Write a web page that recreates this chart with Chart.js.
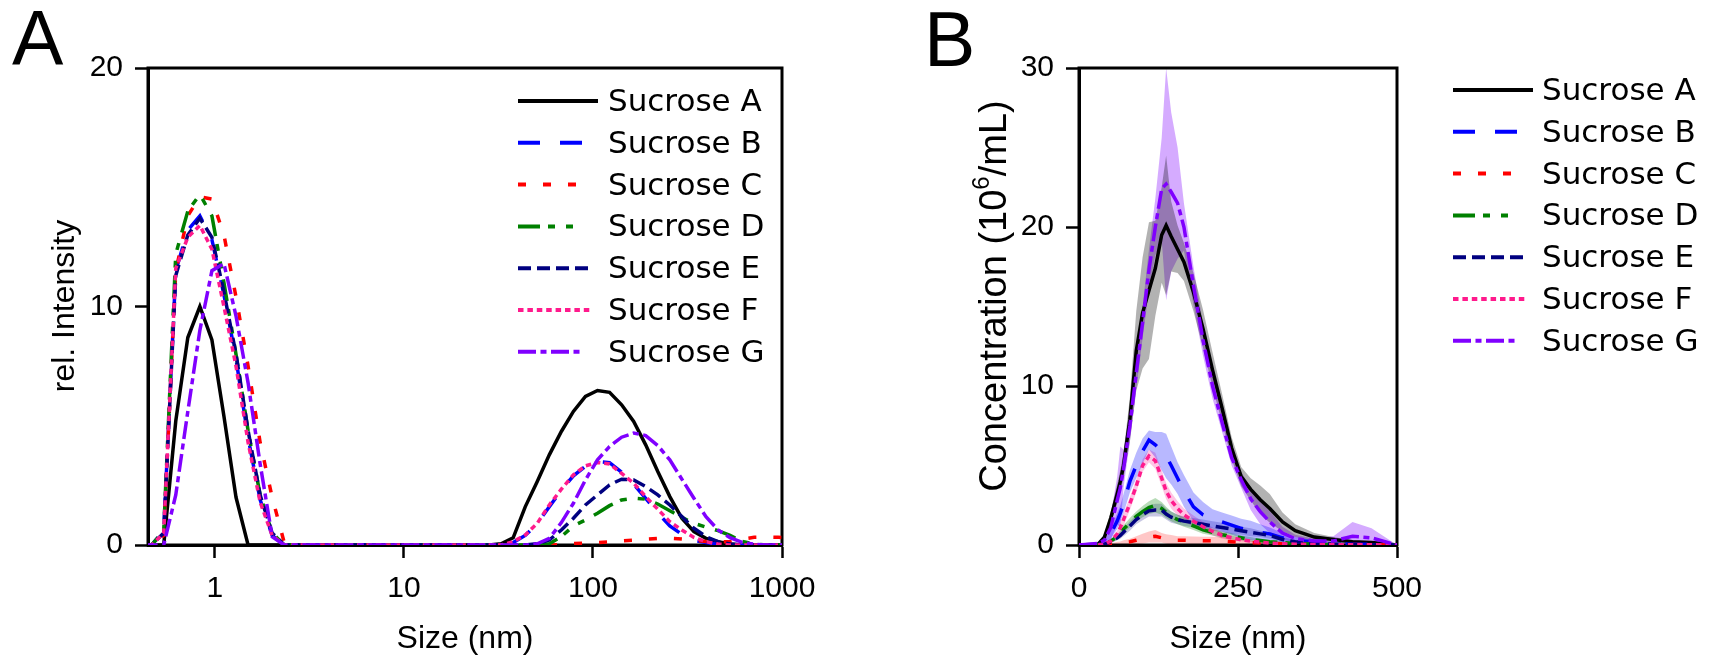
<!DOCTYPE html>
<html>
<head>
<meta charset="utf-8">
<title>Sucrose - DLS / NTA</title>
<script src="https://cdn.jsdelivr.net/npm/chart.js@4.4.1/dist/chart.umd.min.js"></script>
<style>
    html, body { margin: 0; padding: 0; background: #fff; }
    #wrap { position: relative; width: 1712px; height: 661px; }
    canvas { position: absolute; top: 0; }
    #chartA { left: 0; }
    #chartB { left: 860px; }
</style>
</head>
<body>
<div id="wrap">
    <canvas id="chartA" width="860" height="661"></canvas>
    <canvas id="chartB" width="852" height="661"></canvas>
</div>
<script>
// ---- Panel A: DLS intensity distribution (log size bins, nm) ----
const sizesA = [0.4, 0.4632, 0.5365, 0.6213, 0.7195, 0.8332, 0.9649, 1.117, 1.294, 1.499, 1.736, 2.010, 2.328,
    2.696, 3.122, 3.615, 4.187, 4.849, 5.615, 6.503, 7.531, 8.721, 10.10, 11.70, 13.54, 15.69, 18.17, 21.04, 24.36, 28.21,
    32.67, 37.84, 43.82, 50.75, 58.77, 68.06, 78.82, 91.28, 105.7, 122.4, 141.8, 164.2, 190.1, 220.2, 255.0,
    295.3, 342.0, 396.1, 458.7, 531.2, 615.1, 712.4, 825.0, 955.4, 1106];

const dlsA = [0, 0, 0, 5.2, 8.7, 10.0, 8.6, 5.4, 2.0, 0, 0, 0, 0,
    0, 0, 0, 0, 0, 0, 0, 0, 0, 0, 0, 0, 0, 0, 0, 0, 0,
    0.05, 0.3, 1.6, 2.66, 3.78, 4.76, 5.6, 6.23, 6.48, 6.4, 5.88, 5.18, 4.2, 3.08, 2.03,
    1.12, 0.56, 0.28, 0.14, 0.04, 0, 0, 0, 0, 0];
const dlsB = [0, 0, 0.6, 11.5, 13.2, 13.8, 12.8, 10.5, 7.8, 4.5, 1.9, 0.4, 0,
    0, 0, 0, 0, 0, 0, 0, 0, 0, 0, 0, 0, 0, 0, 0, 0, 0,
    0, 0.1, 0.4, 0.9, 1.6, 2.3, 2.9, 3.3, 3.5, 3.45, 3.05, 2.55, 1.95, 1.35, 0.8,
    0.45, 0.2, 0.1, 0.03, 0, 0, 0, 0, 0, 0];
const dlsC = [0, 0, 0.4, 11.5, 13.8, 14.6, 14.5, 13.0, 10.4, 7.5, 4.3, 2.0, 0.1,
    0, 0, 0, 0, 0, 0, 0, 0, 0, 0, 0, 0, 0, 0, 0, 0, 0,
    0, 0, 0, 0, 0, 0.02, 0.06, 0.08, 0.1, 0.13, 0.17, 0.2, 0.24, 0.27, 0.28,
    0.25, 0.2, 0.15, 0.12, 0.15, 0.25, 0.32, 0.33, 0.32, 0.3];
const dlsD = [0, 0, 0.6, 12.2, 14.0, 14.7, 13.8, 11.0, 8.0, 4.8, 2.1, 0.5, 0,
    0, 0, 0, 0, 0, 0, 0, 0, 0, 0, 0, 0, 0, 0, 0, 0, 0,
    0, 0, 0, 0, 0.05, 0.35, 0.8, 1.05, 1.33, 1.65, 1.89, 1.96, 1.92, 1.72, 1.44,
    1.16, 0.91, 0.75, 0.6, 0.4, 0.15, 0.05, 0, 0, 0];
const dlsE = [0, 0, 0.5, 11.3, 13.0, 13.7, 12.9, 10.6, 8.0, 4.8, 2.1, 0.5, 0,
    0, 0, 0, 0, 0, 0, 0, 0, 0, 0, 0, 0, 0, 0, 0, 0, 0,
    0, 0, 0, 0.05, 0.21, 0.63, 1.12, 1.68, 2.1, 2.52, 2.76, 2.73, 2.45, 2.1, 1.68,
    1.19, 0.7, 0.35, 0.14, 0.04, 0, 0, 0, 0, 0];
const dlsF = [0, 0, 0.5, 11.6, 12.9, 13.4, 12.4, 10.0, 7.5, 4.3, 1.8, 0.4, 0,
    0, 0, 0, 0, 0, 0, 0, 0, 0, 0, 0, 0, 0, 0, 0, 0, 0,
    0, 0.14, 0.42, 0.91, 1.68, 2.34, 2.94, 3.32, 3.46, 3.4, 3.0, 2.59, 2.03, 1.5, 0.98,
    0.63, 0.32, 0.14, 0.04, 0, 0, 0, 0, 0, 0];
const dlsG = [0, 0, 0, 2.1, 5.6, 9.0, 11.5, 11.8, 9.6, 6.8, 3.4, 0.35, 0,
    0, 0, 0, 0, 0, 0, 0, 0, 0, 0, 0, 0, 0, 0, 0, 0, 0,
    0, 0, 0, 0.05, 0.28, 0.94, 1.75, 2.73, 3.57, 4.13, 4.52, 4.69, 4.59, 4.17, 3.57,
    2.76, 1.96, 1.19, 0.63, 0.31, 0.11, 0.03, 0, 0, 0];

const ticksA_x = [1, 10, 100, 1000];
const ticksA_y = [0, 10, 20];

// ---- Panel B: NTA concentration (mean and spread, 10^6/mL) ----
const sizesB = [0, 30, 40, 50, 60, 65, 70, 80, 90, 100, 110, 120, 130, 137, 145, 155, 165, 180, 195, 210,
    225, 240, 255, 270, 285, 300, 320, 340, 370, 400, 430, 460, 500];

const ntaA = [0, 0.05, 0.5, 1.7, 3.2, 4.0, 5.0, 7.9, 12.2, 14.6, 16.0, 17.4, 19.5, 20.1, 19.4, 18.6, 17.8, 15.9, 13.6, 11.0,
    8.6, 6.1, 4.3, 3.5, 2.85, 2.3, 1.45, 0.9, 0.5, 0.35, 0.2, 0.15, 0];
const errA = [0, 0, 0.2, 0.4, 0.6, 0.7, 0.8, 1.4, 2.5, 3.5, 4.3, 3.0, 3.0, 4.4, 2.2, 1.5, 1.2, 1.2, 1.2, 1.1,
    0.9, 0.7, 0.6, 0.7, 0.9, 0.9, 0.6, 0.4, 0.25, 0.15, 0.1, 0.05, 0];
const ntaB = [0, 0, 0.2, 0.7, 1.5, 2.0, 2.6, 4.0, 5.0, 5.9, 6.6, 6.3, 5.9, 5.6, 5.0, 4.2, 3.4, 2.4, 1.9, 1.65,
    1.45, 1.25, 1.05, 0.92, 0.8, 0.7, 0.45, 0.3, 0.2, 0.1, 0.05, 0.05, 0];
const errB = [0, 0, 0.1, 0.3, 0.5, 0.5, 0.6, 0.7, 0.8, 0.8, 0.6, 0.8, 1.2, 1.4, 1.2, 1.0, 1.0, 0.9, 0.8, 0.6,
    0.6, 0.6, 0.6, 0.6, 0.5, 0.4, 0.3, 0.2, 0.1, 0.1, 0.05, 0.05, 0];
const ntaC = [0, 0, 0, 0.05, 0.1, 0.12, 0.15, 0.2, 0.3, 0.4, 0.5, 0.55, 0.45, 0.38, 0.33, 0.3, 0.3, 0.28, 0.27, 0.27,
    0.25, 0.21, 0.17, 0.14, 0.12, 0.1, 0.08, 0.06, 0.05, 0.04, 0.03, 0.02, 0];
const errC = [0, 0, 0, 0.05, 0.1, 0.1, 0.15, 0.2, 0.25, 0.3, 0.35, 0.4, 0.3, 0.3, 0.3, 0.25, 0.25, 0.25, 0.25, 0.25,
    0.25, 0.2, 0.15, 0.1, 0.1, 0.1, 0.08, 0.06, 0.05, 0.04, 0.03, 0.02, 0];
const ntaD = [0, 0, 0.1, 0.25, 0.5, 0.7, 1.0, 1.4, 1.8, 2.1, 2.35, 2.5, 2.3, 2.05, 1.8, 1.6, 1.45, 1.2, 0.95, 0.8,
    0.65, 0.55, 0.45, 0.35, 0.28, 0.2, 0.15, 0.1, 0.05, 0.03, 0.02, 0.01, 0];
const errD = [0, 0, 0.05, 0.1, 0.15, 0.2, 0.25, 0.3, 0.3, 0.35, 0.4, 0.45, 0.4, 0.35, 0.3, 0.3, 0.3, 0.25, 0.25, 0.2,
    0.2, 0.2, 0.15, 0.15, 0.1, 0.1, 0.08, 0.05, 0.03, 0.02, 0.01, 0.01, 0];
const ntaE = [0, 0, 0.05, 0.2, 0.45, 0.6, 0.8, 1.2, 1.6, 1.9, 2.15, 2.2, 2.2, 1.95, 1.75, 1.6, 1.5, 1.4, 1.3, 1.2,
    1.1, 1.0, 0.9, 0.8, 0.7, 0.6, 0.35, 0.2, 0.1, 0.05, 0.03, 0.02, 0];
const errE = [0, 0, 0.05, 0.1, 0.15, 0.2, 0.25, 0.3, 0.3, 0.35, 0.35, 0.4, 0.4, 0.35, 0.35, 0.3, 0.3, 0.3, 0.3, 0.3,
    0.3, 0.3, 0.25, 0.25, 0.2, 0.2, 0.15, 0.1, 0.05, 0.03, 0.02, 0.01, 0];
const ntaF = [0, 0, 0.05, 0.25, 0.7, 1.1, 1.6, 2.6, 3.7, 5.0, 5.6, 5.3, 4.2, 3.4, 2.8, 2.3, 1.9, 1.5, 1.15, 0.85,
    0.6, 0.45, 0.33, 0.25, 0.18, 0.12, 0.08, 0.05, 0.03, 0.02, 0.01, 0.01, 0];
const errF = [0, 0, 0.05, 0.1, 0.2, 0.3, 0.4, 0.4, 0.4, 0.4, 0.4, 0.5, 0.5, 0.5, 0.5, 0.45, 0.4, 0.35, 0.3, 0.25,
    0.2, 0.15, 0.1, 0.1, 0.08, 0.05, 0.05, 0.03, 0.02, 0.01, 0.01, 0.01, 0];
const ntaG = [0, 0.1, 0.3, 1.1, 2.8, 3.6, 4.8, 7.5, 10.8, 14.0, 17.3, 20.0, 22.4, 22.7, 22.2, 21.5, 20.0, 16.3, 12.9, 10.0,
    7.7, 5.5, 4.1, 2.9, 2.1, 1.45, 0.75, 0.4, 0.25, 0.25, 0.55, 0.45, 0];
const errG = [0, 0.1, 0.3, 0.8, 1.5, 2.6, 1.2, 1.0, 1.0, 1.0, 1.3, 1.8, 3.2, 7.3, 5.0, 3.5, 1.5, 1.2, 1.0, 0.8,
    0.6, 0.5, 0.5, 0.7, 0.8, 0.7, 0.4, 0.25, 0.15, 0.3, 0.9, 0.6, 0];

const ticksB_x = [0, 250, 500];
const ticksB_y = [0, 10, 20, 30];

// ---- Styles ----
const seriesNames = ['Sucrose A', 'Sucrose B', 'Sucrose C', 'Sucrose D', 'Sucrose E', 'Sucrose F', 'Sucrose G'];
const seriesColors = ['#000000', '#0000ff', '#ff0000', '#008000', '#000080', '#ff1a8c', '#8000ff'];
const seriesDash = [[], [22, 20], [8, 17], [22, 8, 7, 11, 7, 11], [13, 6], [5.5, 3.9], [18, 4.5, 6, 4.5]];
const bandColors = ['rgba(0,0,0,0.30)', 'rgba(0,0,255,0.28)', 'rgba(255,0,0,0.22)', 'rgba(0,128,0,0.28)',
    'rgba(0,0,128,0.22)', 'rgba(255,20,147,0.25)', 'rgba(128,0,255,0.33)'];

const AXIS_FONT = '"Liberation Sans", Arial, sans-serif';
const LEGEND_FONT = '"DejaVu Sans", Verdana, sans-serif';

Chart.defaults.font.family = AXIS_FONT;
Chart.defaults.color = '#000';

// box around the plot + big panel letter
const framePlugin = {
    id: 'frame',
    beforeDatasetsDraw(chart, args, opts) {
        const { ctx, chartArea: a } = chart;
        ctx.save();
        ctx.lineWidth = 3;
        ctx.strokeStyle = '#000';
        ctx.strokeRect(a.left, a.top, a.right - a.left, a.bottom - a.top);
        ctx.fillStyle = '#000';
        ctx.font = '77px ' + AXIS_FONT;
        ctx.textAlign = 'left';
        ctx.textBaseline = 'alphabetic';
        ctx.fillText(opts.letter, opts.letterX, opts.letterY);
        ctx.restore();
    }
};

// legend sample is cut after the last whole dash, like the original
function sampleLength(dash, max) {
    if (!dash.length) return max;
    let pos = 0, end = 0, i = 0;
    while (true) {
        const d = dash[i % dash.length];
        if (i % 2 === 0) {
            if (pos + d > max) break;
            end = pos + d;
        }
        pos += d;
        i++;
    }
    return end;
}

const legendPlugin = {
    id: 'sideLegend',
    afterDraw(chart, args, opts) {
        const ctx = chart.ctx;
        ctx.save();
        ctx.font = opts.fontSize + 'px ' + LEGEND_FONT;
        ctx.textAlign = 'left';
        ctx.textBaseline = 'middle';
        chart.data.datasets.filter(d => !d.isBand).forEach((ds, i) => {
            const y = opts.y + i * opts.dy;
            const dash = ds.borderDash || [];
            ctx.strokeStyle = ds.borderColor;
            ctx.lineWidth = 4;
            ctx.setLineDash(dash);
            ctx.beginPath();
            ctx.moveTo(opts.x, y);
            ctx.lineTo(opts.x + sampleLength(dash, opts.lineLen), y);
            ctx.stroke();
            ctx.setLineDash([]);
            ctx.fillStyle = '#000';
            ctx.fillText(ds.label, opts.textX, y + 2);
        });
        ctx.restore();
    }
};

// rotated y title, with optional superscript part
const yTitlePlugin = {
    id: 'yTitle',
    afterDraw(chart, args, opts) {
        const ctx = chart.ctx;
        const big = opts.size + 'px ' + AXIS_FONT;
        const small = Math.round(opts.size * 0.62) + 'px ' + AXIS_FONT;
        ctx.save();
        ctx.translate(opts.x, opts.y);
        ctx.rotate(-Math.PI / 2);
        ctx.fillStyle = '#000';
        ctx.textAlign = 'left';
        ctx.textBaseline = 'middle';
        let total = 0;
        const widths = opts.parts.map(p => {
            ctx.font = p.sup ? small : big;
            const w = ctx.measureText(p.text).width;
            total += w;
            return w;
        });
        let x = -total / 2;
        opts.parts.forEach((p, i) => {
            ctx.font = p.sup ? small : big;
            ctx.fillText(p.text, x, p.sup ? -opts.size * 0.36 : 0);
            x += widths[i];
        });
        ctx.restore();
    }
};

function axisStyle(extra) {
    return Object.assign({
        grid: { drawOnChartArea: false, drawTicks: true, tickLength: 13, tickWidth: 2.5, tickColor: '#000' },
        border: { display: true, width: 3, color: '#000' },
    }, extra);
}

// ---- Panel A chart ----
const dlsSeries = [dlsA, dlsB, dlsC, dlsD, dlsE, dlsF, dlsG];
const datasetsA = dlsSeries.map((vals, i) => ({
    label: seriesNames[i],
    data: sizesA.map((s, j) => ({ x: s, y: vals[j] })),
    borderColor: seriesColors[i],
    borderDash: seriesDash[i],
    borderWidth: 3.5,
    fill: false,
    order: 10 - i
}));

new Chart(document.getElementById('chartA'), {
    type: 'line',
    data: { datasets: datasetsA },
    options: {
        responsive: false,
        animation: false,
        devicePixelRatio: 1,
        layout: { padding: { top: 68, right: 78, left: 0, bottom: 0 } },
        elements: { point: { radius: 0 }, line: { tension: 0 } },
        plugins: {
            legend: { display: false },
            tooltip: { enabled: false },
            frame: { letter: 'A', letterX: 12, letterY: 65 },
            sideLegend: { x: 518, textX: 608, y: 101, dy: 41.8, lineLen: 80, fontSize: 31 },
            yTitle: { x: 65, y: 306, size: 32, parts: [{ text: 'rel. Intensity' }] }
        },
        scales: {
            x: axisStyle({
                type: 'logarithmic',
                min: 0.443,
                max: 1000,
                afterFit: s => { s.height = 116; },
                afterBuildTicks: s => { s.ticks = ticksA_x.map(v => ({ value: v })); },
                ticks: { callback: v => String(v), font: { size: 30 }, padding: 13, maxRotation: 0, autoSkip: false },
                title: { display: true, text: 'Size (nm)', font: { size: 32 }, padding: { top: 0, bottom: 3 } }
            }),
            y: axisStyle({
                min: 0,
                max: 20,
                afterFit: s => { s.width = 148; },
                afterBuildTicks: s => { s.ticks = ticksA_y.map(v => ({ value: v })); },
                ticks: { font: { size: 30 }, padding: 12 }
            })
        }
    },
    plugins: [framePlugin, legendPlugin, yTitlePlugin]
});

// ---- Panel B chart ----
const ntaSeries = [ntaA, ntaB, ntaC, ntaD, ntaE, ntaF, ntaG];
const errSeries = [errA, errB, errC, errD, errE, errF, errG];
const datasetsB = [];

// shaded spread: upper edge filled down to lower edge
ntaSeries.forEach((vals, i) => {
    const err = errSeries[i];
    datasetsB.push({
        isBand: true,
        data: sizesB.map((s, j) => ({ x: s, y: vals[j] + err[j] })),
        borderWidth: 0,
        borderColor: 'rgba(0,0,0,0)',
        backgroundColor: bandColors[i],
        fill: '+1',
        order: 30
    });
    datasetsB.push({
        isBand: true,
        data: sizesB.map((s, j) => ({ x: s, y: Math.max(0, vals[j] - err[j]) })),
        borderWidth: 0,
        borderColor: 'rgba(0,0,0,0)',
        fill: false,
        order: 30
    });
});
ntaSeries.forEach((vals, i) => {
    datasetsB.push({
        label: seriesNames[i],
        data: sizesB.map((s, j) => ({ x: s, y: vals[j] })),
        borderColor: seriesColors[i],
        borderDash: seriesDash[i],
        borderWidth: 3.5,
        fill: false,
        order: 10 - i
    });
});

new Chart(document.getElementById('chartB'), {
    type: 'line',
    data: { datasets: datasetsB },
    options: {
        responsive: false,
        animation: false,
        devicePixelRatio: 1,
        layout: { padding: { top: 68, right: 315, left: 0, bottom: 0 } },
        elements: { point: { radius: 0 }, line: { tension: 0 } },
        plugins: {
            legend: { display: false },
            tooltip: { enabled: false },
            filler: { drawTime: 'beforeDatasetsDraw' },
            frame: { letter: 'B', letterX: 64, letterY: 66 },
            sideLegend: { x: 593, textX: 682, y: 90, dy: 41.8, lineLen: 80, fontSize: 31 },
            yTitle: {
                x: 136, y: 296, size: 38,
                parts: [{ text: 'Concentration (10' }, { text: '6', sup: true }, { text: '/mL)' }]
            }
        },
        scales: {
            x: axisStyle({
                type: 'linear',
                min: 0,
                max: 500,
                afterFit: s => { s.height = 116; },
                afterBuildTicks: s => { s.ticks = ticksB_x.map(v => ({ value: v })); },
                ticks: { font: { size: 30 }, padding: 13, maxRotation: 0, autoSkip: false },
                title: { display: true, text: 'Size (nm)', font: { size: 32 }, padding: { top: 0, bottom: 3 } }
            }),
            y: axisStyle({
                min: 0,
                max: 30,
                afterFit: s => { s.width = 219; },
                afterBuildTicks: s => { s.ticks = ticksB_y.map(v => ({ value: v })); },
                ticks: { font: { size: 30 }, padding: 12 }
            })
        }
    },
    plugins: [framePlugin, legendPlugin, yTitlePlugin]
});
</script>
</body>
</html>
